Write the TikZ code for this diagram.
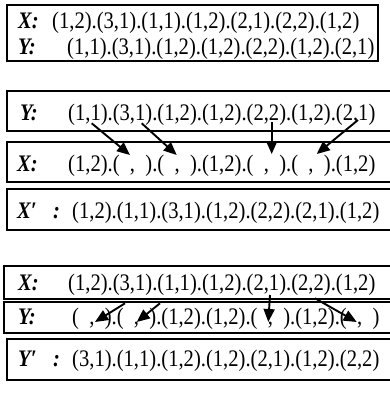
\documentclass[tikz,border=0pt]{standalone}
\usepackage{fontspec}
\setmainfont{Liberation Serif}
\usetikzlibrary{arrows.meta}
\newcommand{\bl}{(\phantom{1},\phantom{2})}
\newcommand{\vs}[1]{\scalebox{1}[1.15]{#1}}
\tikzset{
  box/.style={draw=black, line width=1.4pt},
  txt/.style={anchor=base west, inner sep=0pt, font=\fontsize{20.6}{24}\selectfont},
  lab/.style={anchor=base west, inner sep=0pt, font=\fontsize{20.6}{24}\selectfont\bfseries\itshape},
  arr/.style={line width=1.9pt, -{Triangle[length=13pt,width=11pt]}}
}
\begin{document}
\begin{tikzpicture}[x=1pt,y=-1pt]
\clip (0,0) rectangle (390,397);
\fill[white] (0,0) rectangle (390,397);
% boxes
\draw[box] (7,5) rectangle (378,61);
\draw[box] (7,91) rectangle (395,131);
\draw[box] (7,142) rectangle (395,182);
\draw[box] (7,189) rectangle (395,230);
\draw[box] (4,266) rectangle (395,299);
\draw[box] (4,302) rectangle (395,333);
\draw[box] (7,339) rectangle (395,380);
% box 1
\node[lab] (l1) at (18,28.4) {\vs{X:}};
\node[txt] (t1) at (52,28.4) {\vs{(1,2).(3,1).(1,1).(1,2).(2,1).(2,2).(1,2)}};
\node[lab] (l2) at (18,54) {\vs{Y:}};
\node[txt] (t2) at (67,54) {\vs{(1,1).(3,1).(1,2).(1,2).(2,2).(1,2).(2,1)}};
% box 2-4
\node[lab] (l3) at (20,120) {\vs{Y:}};
\node[txt] (t3) at (68,120) {\vs{(1,1).(3,1).(1,2).(1,2).(2,2).(1,2).(2,1)}};
\node[lab] (l4) at (17,171) {\vs{X:}};
\node[txt] (t4) at (68,171) {\vs{(1,2).\bl.\bl.(1,2).\bl.\bl.(1,2)}};
\node[lab] (l5) at (17,218) {\vs{X′}};
\node[lab] (c5) at (53,218) {\vs{:}};
\node[txt] (t5) at (72,218) {\vs{(1,2).(1,1).(3,1).(1,2).(2,2).(2,1).(1,2)}};
% box 5-7
\node[lab] (l6) at (18,290) {\vs{X:}};
\node[txt] (t6) at (68,290) {\vs{(1,2).(3,1).(1,1).(1,2).(2,1).(2,2).(1,2)}};
\node[lab] (l7) at (18,324) {\vs{Y:}};
\node[txt] (t7) at (72,324) {\vs{\bl.\bl.(1,2).(1,2).\bl.(1,2).\bl}};
\node[lab] (l8) at (18,366) {\vs{Y′}};
\node[lab] (c8) at (53,366) {\vs{:}};
\node[txt] (t8) at (72,366) {\vs{(3,1).(1,1).(1,2).(1,2).(2,1).(1,2).(2,2)}};
% arrow end points
\coordinate (a1s) at (91.7,123.3); \coordinate (a1e) at (130,155);
\coordinate (a2s) at (141.7,123.3); \coordinate (a2e) at (176.7,155);
\coordinate (a3s) at (271.7,121.7); \coordinate (a3e) at (271.7,154);
\coordinate (a4s) at (358,120); \coordinate (a4e) at (316.7,154);
\coordinate (a5s) at (125,303.3); \coordinate (a5e) at (95,322);
\coordinate (a6s) at (160,303.3); \coordinate (a6e) at (136.7,322);
\coordinate (a7s) at (270,295); \coordinate (a7e) at (268.3,322);
\coordinate (a8s) at (315,298.3); \coordinate (a8e) at (356.7,322);
\draw[arr] (a1s) -- (a1e);
\draw[arr] (a2s) -- (a2e);
\draw[arr] (a3s) -- (a3e);
\draw[arr] (a4s) -- (a4e);
\draw[arr] (a5s) -- (a5e);
\draw[arr] (a6s) -- (a6e);
\draw[arr] (a7s) -- (a7e);
\draw[arr] (a8s) -- (a8e);
\end{tikzpicture}
\end{document}
